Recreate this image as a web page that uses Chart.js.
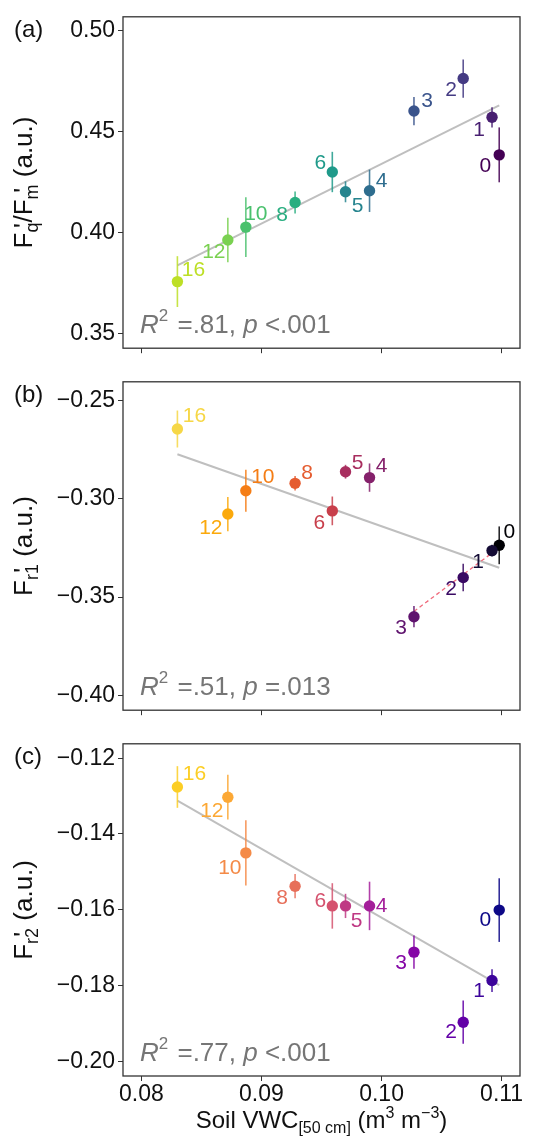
<!DOCTYPE html>
<html>
<head>
<meta charset="utf-8">
<title>Soil VWC panels</title>
<style>
  html, body { margin: 0; padding: 0; background: #fff; }
  #wrap { position: relative; width: 537px; height: 1138px; }
  .panel { position: absolute; left: 0; width: 537px; }
</style>
</head>
<body>
<div id="wrap">
  <div class="panel" style="top:0;height:365px"><canvas id="chartA"></canvas></div>
  <div class="panel" style="top:365px;height:362px"><canvas id="chartB"></canvas></div>
  <div class="panel" style="top:727px;height:411px"><canvas id="chartC"></canvas></div>
</div>
<script src="https://cdn.jsdelivr.net/npm/chart.js@4.4.0/dist/chart.umd.min.js"></script>
<script>
// days since start of drought and soil moisture at 50 cm
var days = [0, 1, 2, 3, 4, 5, 6, 8, 10, 12, 16];
var vwc = [0.1098, 0.1092, 0.1068, 0.1027, 0.0990, 0.0970, 0.0959, 0.0928, 0.0887, 0.0872, 0.0830];
var xTicks = [0.08, 0.09, 0.10, 0.11];

// (a) Fq'/Fm'
var fqfm = [0.4385, 0.4571, 0.4763, 0.4602, 0.4207, 0.4202, 0.4300, 0.4149, 0.4027, 0.3963, 0.3757];
var fqfmErr = [0.0136, 0.0050, 0.0095, 0.0070, 0.0105, 0.0052, 0.0100, 0.0055, 0.0148, 0.0110, 0.0126];
var fitA = [0.3837, 0.4630];
var ticksA = [0.35, 0.40, 0.45, 0.50];

// (b) Fr1'
var fr1 = [-0.3237, -0.3264, -0.3401, -0.3600, -0.2893, -0.2863, -0.3062, -0.2922, -0.2960, -0.3078, -0.2646];
var fr1Err = [0.0096, 0.0030, 0.0070, 0.0054, 0.0072, 0.0035, 0.0073, 0.0037, 0.0107, 0.0087, 0.0094];
var fitB = [-0.2774, -0.3351];
var dashX = [0.1027, 0.1092];
var dashB = [-0.3573, -0.3276];
var ticksB = [-0.40, -0.35, -0.30, -0.25];

// (c) Fr2'
var fr2 = [-0.1601, -0.1787, -0.1897, -0.1712, -0.1590, -0.1590, -0.1590, -0.1538, -0.1450, -0.1303, -0.1276];
var fr2Err = [0.0084, 0.0030, 0.0057, 0.0044, 0.0064, 0.0032, 0.0060, 0.0032, 0.0086, 0.0059, 0.0055];
var fitC = [-0.1312, -0.1799];
var ticksC = [-0.20, -0.18, -0.16, -0.14, -0.12];

var fitX = [0.0830, 0.1098];
var r2Text = ['.81', '.51', '.77'];
var pText = ['<.001', '=.013', '<.001'];

// colours (one per day)
var viridis = ['#440154', '#481f71', '#443a83', '#3a548c', '#2e6d8e', '#25848e', '#1f9a8a', '#29ae80', '#4ac16d', '#7ad151', '#bddf26'];
var inferno = ['#000004', '#140b35', '#390963', '#5f136e', '#85216b', '#a82e5f', '#c83f4b', '#e55c30', '#f57d15', '#fba90c', '#f6d746'];
var plasma = ['#0d0887', '#3c049b', '#6300a7', '#8506a6', '#a41e9a', '#bf3984', '#d5536f', '#e76f5a', '#f48a47', '#fca835', '#fcce25'];

// label nudges in px (dx, dy), same order as days
var nudgeA = [[-14, 11], [-13, 13], [-12, 12], [13, -10], [12, -10], [12, 14], [-12, -9], [-13, 13], [10, -13], [-14, 12], [16, -11]];
var nudgeB = [[10, -13], [-14, 12], [-12, 12], [-13, 11], [12, -11], [12, -9], [-13, 12], [12, -10], [17, -14], [-17, 14], [17, -13]];
var nudgeC = [[-14, 10], [-13, 11], [-12, 10], [-13, 11], [12, 0], [11, 15], [-12, -5], [-13, 12], [-16, 15], [-16, 14], [17, -13]];

var FONT = "'Liberation Sans', Arial, Helvetica, sans-serif";
Chart.defaults.font.family = FONT;
Chart.defaults.color = '#111';

function hexA(hex, a) {
  var n = parseInt(hex.slice(1), 16);
  return 'rgba(' + (n >> 16) + ',' + ((n >> 8) & 255) + ',' + (n & 255) + ',' + a + ')';
}

// draws a list of text pieces (sub/superscripts, italics) on one baseline
function drawRich(ctx, segs, x, y, align) {
  var w = 0, prevX = 0, prevW = 0;
  segs.forEach(function (s) {
    ctx.font = (s.italic ? 'italic ' : '') + (s.size || 22) + 'px ' + FONT;
    var sw = ctx.measureText(s.t).width;
    if (s.stack) { s.x = prevX + prevW * 0.45; w = Math.max(w, s.x + sw); }
    else { s.x = w; prevX = w; prevW = sw; w += sw + (s.gap || 0); }
  });
  var x0 = align === 'center' ? x - w / 2 : x;
  segs.forEach(function (s) {
    ctx.font = (s.italic ? 'italic ' : '') + (s.size || 22) + 'px ' + FONT;
    ctx.textAlign = 'left';
    ctx.textBaseline = 'alphabetic';
    ctx.fillText(s.t, x0 + s.x, y + (s.dy || 0));
  });
}

var panelPlugin = {
  id: 'panel',
  beforeDatasetDraw: function (chart, args) {
    if (args.index !== 0) return;
    var p = chart.config.options.panel, ctx = chart.ctx;
    var xs = chart.scales.x, ys = chart.scales.y;
    ctx.save();
    ctx.lineWidth = 1.6;
    for (var i = 0; i < vwc.length; i++) {
      var px = xs.getPixelForValue(vwc[i]);
      ctx.strokeStyle = hexA(p.colors[i], 0.85);
      ctx.beginPath();
      ctx.moveTo(px, ys.getPixelForValue(p.y[i] - p.err[i]));
      ctx.lineTo(px, ys.getPixelForValue(p.y[i] + p.err[i]));
      ctx.stroke();
    }
    ctx.restore();
  },
  afterDraw: function (chart) {
    var p = chart.config.options.panel, ctx = chart.ctx, a = chart.chartArea;
    var xs = chart.scales.x, ys = chart.scales.y;
    ctx.save();
    // point labels
    ctx.font = '21px ' + FONT;
    ctx.textAlign = 'center';
    ctx.textBaseline = 'middle';
    for (var i = 0; i < days.length; i++) {
      ctx.fillStyle = p.colors[i];
      ctx.fillText(String(days[i]), xs.getPixelForValue(vwc[i]) + p.nudge[i][0], ys.getPixelForValue(p.y[i]) + p.nudge[i][1]);
    }
    // frame
    ctx.strokeStyle = '#333';
    ctx.lineWidth = 1.3;
    ctx.strokeRect(a.left, a.top, a.right - a.left, a.bottom - a.top);
    // stats
    ctx.fillStyle = '#767676';
    drawRich(ctx, [
      { t: 'R', italic: true, size: 26 },
      { t: '2', size: 17, dy: -12, gap: 2 },
      { t: ' =', size: 26 },
      { t: '.81, '.replace('.81', p.r2), size: 26 },
      { t: 'p', italic: true, size: 26 },
      { t: ' ' + p.p.charAt(0), size: 26 },
      { t: p.p.slice(1), size: 26 }
    ], a.left + 17, a.bottom - 15, 'left');
    // panel letter
    ctx.fillStyle = '#111';
    ctx.font = '24px ' + FONT;
    ctx.textAlign = 'left';
    ctx.textBaseline = 'alphabetic';
    ctx.fillText(p.letter, 14, a.top + 20);
    // y title
    ctx.save();
    ctx.translate(32, (a.top + a.bottom) / 2);
    ctx.rotate(-Math.PI / 2);
    drawRich(ctx, p.title, 0, 0, 'center');
    ctx.restore();
    // x title
    if (p.xTitle) {
      drawRich(ctx, [
        { t: 'Soil VWC', size: 24 },
        { t: '[50 cm]', size: 16, dy: 5 },
        { t: ' (m', size: 24 },
        { t: '3', size: 16, dy: -10 },
        { t: ' m', size: 24 },
        { t: '\u22123', size: 16, dy: -10 },
        { t: ')', size: 24 }
      ], (a.left + a.right) / 2, a.bottom + 52, 'center');
    }
    ctx.restore();
  }
};

function makePanel(id, cfg) {
  var pts = vwc.map(function (x, i) { return { x: x, y: cfg.y[i] }; });
  var datasets = [
    { data: pts, backgroundColor: cfg.colors, borderWidth: 0, pointRadius: 5.7, pointHoverRadius: 5.7, order: 0 },
    { type: 'line', data: fitX.map(function (x, i) { return { x: x, y: cfg.fit[i] }; }),
      borderColor: '#bfbfbf', borderWidth: 2, pointRadius: 0, fill: false, order: 2 }
  ];
  if (cfg.dash) {
    datasets.push({ type: 'line', data: dashX.map(function (x, i) { return { x: x, y: cfg.dash[i] }; }),
      borderColor: '#f06b7c', borderWidth: 1.3, borderDash: [4, 3], pointRadius: 0, fill: false, order: 1 });
  }
  var gridOpts = { display: true, drawOnChartArea: false, drawTicks: true, tickLength: 5, color: '#333', lineWidth: 1 };
  return new Chart(document.getElementById(id), {
    type: 'scatter',
    data: { datasets: datasets },
    options: {
      responsive: true,
      maintainAspectRatio: false,
      animation: false,
      events: [],
      layout: { padding: { top: cfg.padTop, right: 17, bottom: 0, left: 0 } },
      plugins: { legend: { display: false }, tooltip: { enabled: false } },
      panel: cfg,
      scales: {
        x: {
          type: 'linear', min: 0.07847, max: 0.11153,
          afterBuildTicks: function (s) { s.ticks = xTicks.map(function (v) { return { value: v }; }); },
          afterFit: function (s) { s.height = cfg.xHeight; },
          grid: gridOpts,
          border: { display: false },
          ticks: {
            padding: 0, autoSkip: false, maxRotation: 0, color: '#111', font: { size: 23 },
            callback: function (v) { return cfg.xTitle ? v.toFixed(2) : ''; }
          }
        },
        y: {
          type: 'linear', min: cfg.yMin, max: cfg.yMax,
          afterBuildTicks: function (s) { s.ticks = cfg.yTicks.map(function (v) { return { value: v }; }); },
          afterFit: function (s) { s.width = 123; },
          grid: gridOpts,
          border: { display: false },
          ticks: {
            padding: 3, color: '#111', font: { size: 23 },
            callback: function (v) { return v.toFixed(2).replace('-', '\u2212'); }
          }
        }
      }
    },
    plugins: [panelPlugin]
  });
}

makePanel('chartA', {
  y: fqfm, err: fqfmErr, fit: fitA, colors: viridis, nudge: nudgeA,
  yMin: 0.3427, yMax: 0.5069, yTicks: ticksA, padTop: 14, xHeight: 9,
  r2: r2Text[0], p: pText[0], letter: '(a)',
  title: [{ t: 'F', size: 26 }, { t: 'q', size: 18, dy: 6 }, { t: "'", size: 26, stack: true }, { t: '/F', size: 26 },
          { t: 'm', size: 18, dy: 6 }, { t: "'", size: 26, stack: true }, { t: ' (a.u.)', size: 26 }]
});

makePanel('chartB', {
  y: fr1, err: fr1Err, fit: fitB, dash: dashB, colors: inferno, nudge: nudgeB,
  yMin: -0.4075, yMax: -0.2406, yTicks: ticksB, padTop: 9, xHeight: 9,
  r2: r2Text[1], p: pText[1], letter: '(b)',
  title: [{ t: 'F', size: 26 }, { t: 'r1', size: 18, dy: 6 }, { t: "'", size: 26, stack: true }, { t: ' (a.u.)', size: 26 }]
});

makePanel('chartC', {
  y: fr2, err: fr2Err, fit: fitC, colors: plasma, nudge: nudgeC,
  yMin: -0.2039, yMax: -0.1162, yTicks: ticksC, padTop: 10, xHeight: 62, xTitle: true,
  r2: r2Text[2], p: pText[2], letter: '(c)',
  title: [{ t: 'F', size: 26 }, { t: 'r2', size: 18, dy: 6 }, { t: "'", size: 26, stack: true }, { t: ' (a.u.)', size: 26 }]
});
</script>
</body>
</html>
